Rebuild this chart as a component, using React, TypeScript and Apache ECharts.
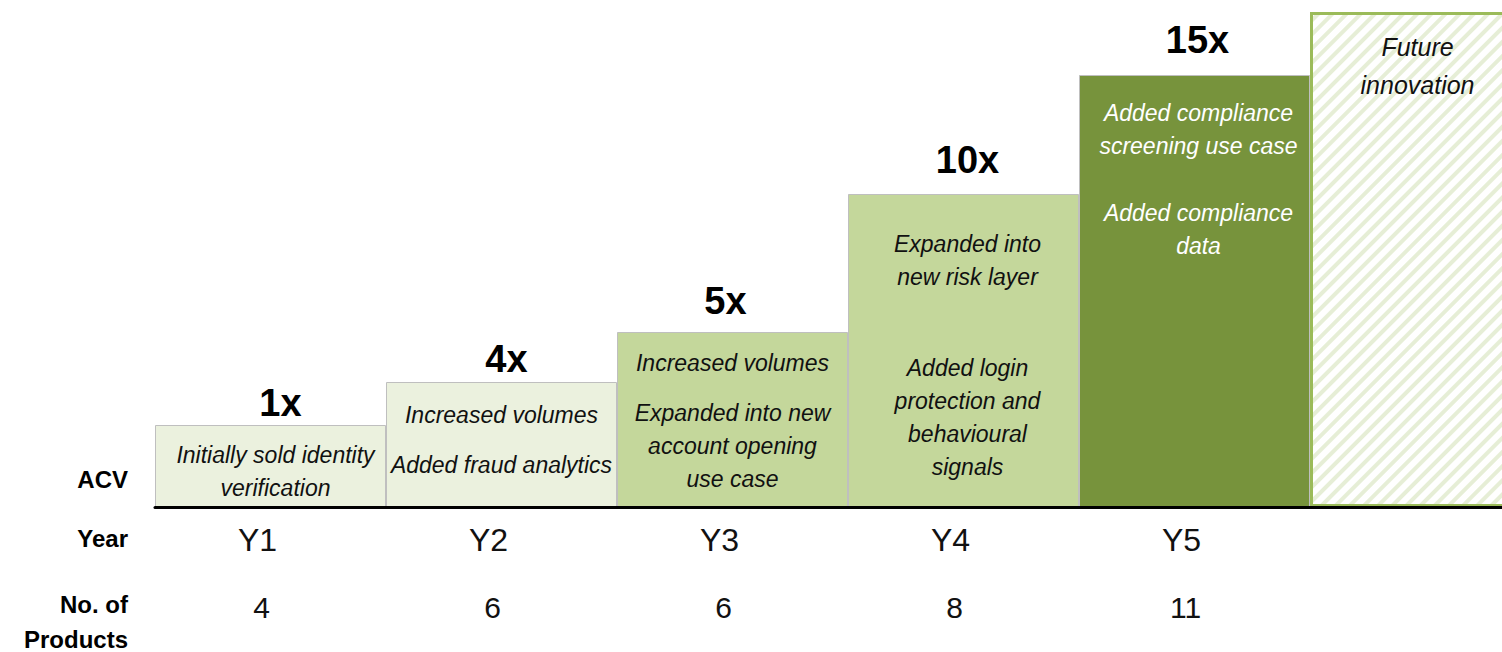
import React, { useEffect, useRef } from "react";
import * as echarts from "echarts";

// ---- data ----
const categories = ["Y1", "Y2", "Y3", "Y4", "Y5", "Future"];
const yearLabels = ["Y1", "Y2", "Y3", "Y4", "Y5", ""];
const productCounts = ["4", "6", "6", "8", "11", ""];
const acvMultiples = ["1x", "4x", "5x", "10x", "15x", ""];
// illustrative step heights (not to scale with the multiples)
const stepHeights = [82, 125, 175, 313, 432, 495];
const descriptions: string[][][] = [
  [["Initially sold identity", "verification"]],
  [["Increased volumes"], ["Added fraud analytics"]],
  [["Increased volumes"], ["Expanded into new", "account opening", "use case"]],
  [["Expanded into", "new risk layer"], ["Added login", "protection and", "behavioural", "signals"]],
  [["Added compliance", "screening use case"], ["Added compliance", "data"]],
  [["Future", "innovation"]],
];
const rowLabels = ["ACV", "Year", "No. of", "Products"];

// ---- styling / layout ----
const FONT = "'Liberation Sans Narrow', 'Arial Narrow', 'Liberation Sans', Arial, sans-serif";
const fills = ["#EBF1DE", "#EBF1DE", "#C4D79B", "#C4D79B", "#77933C", "#FFFFFF"];
const textColors = ["#111", "#111", "#111", "#111", "#FFFFFF", "#111"];
const descTopGap = [13.5, 16.5, 14.5, 33.5, 21.5, 16];
const descShiftX = [5, 0, 0, 4, 4, -8];
const paraGap = [0, 17, 17, 58, 34, 0];
const multGap = [3, 4, 12, 15, 16, 0];
const multShiftX = [10, 5, -7, 4, 3, 0];
const rowLabelY = [479, 538, 604, 639];

export default function App() {
  const ref = useRef<HTMLDivElement>(null);
  useEffect(() => {
    if (!ref.current) return;
    const chart = echarts.init(ref.current, undefined, { renderer: "svg" });

    const mainData = stepHeights.map((v, i) => {
      const isFuture = i === stepHeights.length - 1;
      const fs = isFuture ? 25 : 23;
      const lh = isFuture ? 38 : 33;
      const parts: string[] = [];
      descriptions[i].forEach((para, pi) => {
        if (pi > 0) parts.push("{g| }");
        para.forEach((line) => parts.push("{t|" + line + "}"));
      });
      return {
        value: v,
        itemStyle: isFuture
          ? {
              color: fills[i],
              borderColor: "#9BBB59",
              borderWidth: 3,
              decal: {
                symbol: "rect",
                symbolSize: 1,
                color: "#E6EED6",
                dashArrayX: [1, 0],
                dashArrayY: [4, 6],
                rotation: -Math.PI / 4,
              },
            }
          : { color: fills[i], borderColor: "#BFBFBF", borderWidth: 1 },
        label: {
          show: true,
          position: "insideTop",
          distance: descTopGap[i],
          offset: [descShiftX[i], 0],
          formatter: parts.join("\n"),
          rich: {
            t: {
              fontFamily: FONT,
              fontSize: fs,
              fontStyle: "italic",
              lineHeight: lh,
              color: textColors[i],
              align: "center",
            },
            g: { fontSize: 1, lineHeight: Math.max(1, paraGap[i]) },
          },
        },
      };
    });

    const multData = stepHeights.map((v, i) => ({
      value: v,
      label: { distance: multGap[i], offset: [multShiftX[i], 0] },
    }));

    const rowText = (i: number) => ({
      type: "text",
      x: 128,
      y: rowLabelY[i],
      style: {
        text: rowLabels[i],
        font: "bold 24px " + FONT,
        fill: "#000",
        align: "right",
        verticalAlign: "middle",
      },
    });

    chart.setOption({
      animation: false,
      grid: { left: 155, right: 0, top: 7, bottom: 145, containLabel: false },
      xAxis: [
        {
          type: "category",
          data: categories,
          z: 5,
          axisLine: { show: true, lineStyle: { color: "#000", width: 3 } },
          axisTick: { show: false },
          splitLine: { show: false },
          axisLabel: {
            interval: 0,
            formatter: (_v: string, idx: number) => yearLabels[idx],
            fontFamily: FONT,
            fontSize: 32,
            lineHeight: 32,
            color: "#111",
            margin: 17,
            padding: [0, 26, 0, 0],
          },
        },
        {
          type: "category",
          data: productCounts,
          position: "bottom",
          axisLine: { show: false },
          axisTick: { show: false },
          axisLabel: {
            interval: 0,
            fontFamily: FONT,
            fontSize: 30,
            lineHeight: 30,
            color: "#111",
            margin: 85,
            padding: [0, 18, 0, 0],
          },
        },
      ],
      yAxis: { type: "value", min: 0, max: 500, show: false },
      series: [
        {
          type: "bar",
          data: mainData,
          barWidth: "100%",
          barGap: "-100%",
          silent: true,
        },
        {
          type: "bar",
          data: multData,
          barWidth: "100%",
          barGap: "-100%",
          silent: true,
          itemStyle: { color: "rgba(0,0,0,0)" },
          label: {
            show: true,
            position: "top",
            formatter: (p: any) => acvMultiples[p.dataIndex],
            fontFamily: FONT,
            fontWeight: "bold",
            fontSize: 38,
            lineHeight: 38,
            color: "#000",
          },
        },
      ],
      graphic: [rowText(0), rowText(1), rowText(2), rowText(3)],
    });
    return () => chart.dispose();
  }, []);
  return (
    <div style={{ position: "absolute", left: 0, top: 0, width: 1502, height: 652, overflow: "hidden", background: "#fff" }}>
      <div ref={ref} style={{ width: 1541, height: 652 }} />
    </div>
  );
}
